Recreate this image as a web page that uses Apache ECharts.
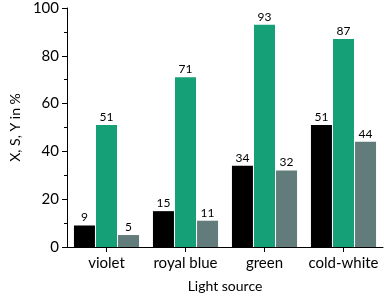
<!DOCTYPE html>
<html><head><meta charset="utf-8">
<script src="https://cdn.jsdelivr.net/npm/echarts@6/dist/echarts.min.js"></script>
<style>html,body{margin:0;padding:0;background:#fff}#c{width:389px;height:298px}</style>
</head><body><div id="c"></div>
<script>
const categories = ['violet', 'royal blue', 'green', 'cold-white'];
const seriesX = [9, 15, 34, 51];
const seriesS = [51, 71, 93, 87];
const seriesY = [5, 11, 32, 44];
const yTicks = [0, 20, 40, 60, 80, 100];

const font = 'Lato';
const chart = echarts.init(document.getElementById('c'), null, {renderer: 'canvas'});
function bar(data, color) {
  return {
    type: 'bar', data: data, barWidth: 21, barGap: '5%',
    itemStyle: {color: color},
    label: {show: true, position: 'top', distance: 2, color: '#000', fontSize: 12, fontFamily: font}
  };
}
chart.setOption({
  animation: false,
  grid: {left: 53, right: 6, top: 8, bottom: 45, containLabel: false},
  xAxis: {
    type: 'category', data: categories,
    name: 'Light source', nameLocation: 'middle', nameGap: 32,
    nameTextStyle: {color: '#000', fontSize: 14, fontFamily: font},
    axisLine: {lineStyle: {color: '#000', width: 1}},
    axisTick: {show: true, alignWithLabel: true, length: 5, lineStyle: {color: '#000'}},
    axisLabel: {color: '#000', fontSize: 15, fontFamily: font, margin: 9, interval: 0}
  },
  yAxis: {
    type: 'value', min: yTicks[0], max: yTicks[yTicks.length - 1], interval: 20,
    name: 'X, S, Y in %', nameLocation: 'middle', nameGap: 41,
    nameTextStyle: {color: '#000', fontSize: 14, fontFamily: font},
    axisLine: {show: true, lineStyle: {color: '#000', width: 1}},
    axisTick: {show: true, length: 5, lineStyle: {color: '#000'}},
    minorTick: {show: true, splitNumber: 2, length: 3, lineStyle: {color: '#000'}},
    splitLine: {show: false},
    axisLabel: {color: '#000', fontSize: 15, fontFamily: font, margin: 8}
  },
  series: [bar(seriesX, '#000000'), bar(seriesS, '#16a077'), bar(seriesY, '#617c7b')]
});
</script></body></html>
